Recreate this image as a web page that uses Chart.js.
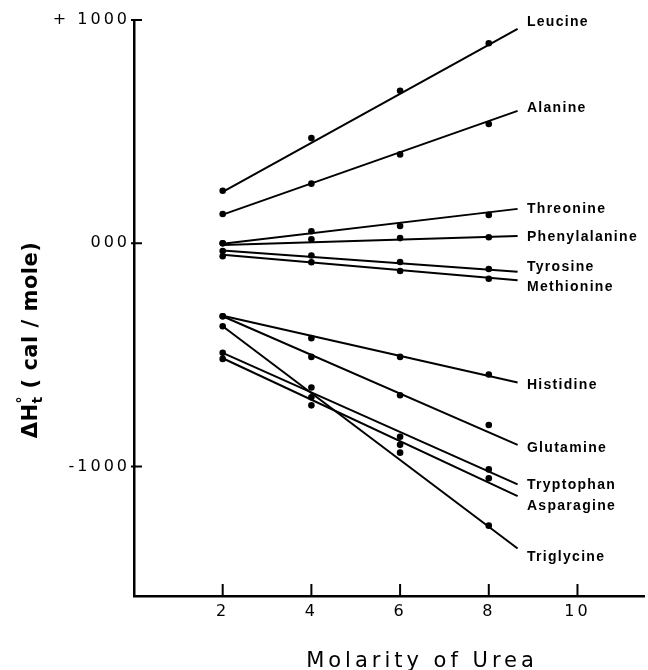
<!DOCTYPE html>
<html>
<head>
<meta charset="utf-8">
<script src="https://cdn.jsdelivr.net/npm/chart.js@4.4.0/dist/chart.umd.min.js"></script>
<style>
  html, body { margin:0; padding:0; background:#fff; }
</style>
</head>
<body>
<canvas id="mychart" width="648" height="670"></canvas>
<script>
// molarity of urea where the points were measured
var molarity = [2, 4, 6, 8]

var acids = ["Leucine", "Alanine", "Threonine", "Phenylalanine", "Tyrosine", "Methionine",
             "Histidine", "Glutamine", "Tryptophan", "Asparagine", "Triglycine"]

// measured points, cal/mole
var leucine       = [235, 471, 683, 896]
var alanine       = [131, 267, 398, 534]
var threonine     = [0, 54, 77, 127]
var phenylalanine = [0, 18, 23, 27]
var tyrosine      = [-35, -55, -84, -115]
var methionine    = [-58, -85, -124, -159]
var histidine     = [-327, -425, -509, -588]
var glutamine     = [-327, -509, -681, -814]
var tryptophan    = [-491, -646, -867, -1013]
var asparagine    = [-518, -690, -903, -1053]
var triglycine    = [-372, -726, -938, -1265]

// fitted straight lines: value at lineX[0] and at lineX[1]
var lineX     = [2, 8.65]
var fitStart  = [230, 128, -2, -8, -32, -52, -325, -327, -491, -515, -372]
var fitEnd    = [960, 593, 154, 32, -128, -166, -624, -903, -1080, -1133, -1367]

// where the name of each line sits
var labelX = 8.86
var labelY = [991, 606, 154, 27, -106, -195, -637, -916, -1084, -1177, -1407]

var xTicks = [2, 4, 6, 8, 10]
var yTicks = [-1000, 0, 1000]
var yTickLabels = ["-1000", "000", "+ 1000"]

var points = [leucine, alanine, threonine, phenylalanine, tyrosine, methionine,
              histidine, glutamine, tryptophan, asparagine, triglycine]

var datasets = []
for (var i = 0; i < acids.length; i++) {
  datasets.push({
    label: acids[i] + " fit",
    data: [{x: lineX[0], y: fitStart[i]}, {x: lineX[1], y: fitEnd[i]}],
    showLine: true,
    borderColor: "#000",
    borderWidth: 2,
    pointRadius: 0
  })
  datasets.push({
    label: acids[i],
    data: molarity.map(function(x, j){ return {x: x, y: points[i][j]} }),
    showLine: false,
    pointRadius: 3.3,
    pointBackgroundColor: "#000",
    pointBorderWidth: 0
  })
}

var decor = {
  id: "decor",
  beforeDraw: function(chart){
    chart.ctx.letterSpacing = "3px"
  },
  afterDraw: function(chart){
    var ctx = chart.ctx, xs = chart.scales.x, ys = chart.scales.y, area = chart.chartArea
    ctx.save()
    ctx.strokeStyle = "#000"
    ctx.lineWidth = 2
    // inward tick marks
    yTicks.forEach(function(v){
      var py = ys.getPixelForValue(v)
      ctx.beginPath(); ctx.moveTo(area.left - 3, py); ctx.lineTo(area.left + 8, py); ctx.stroke()
    })
    xTicks.forEach(function(v){
      var px = xs.getPixelForValue(v)
      ctx.beginPath(); ctx.moveTo(px, area.bottom); ctx.lineTo(px, area.bottom - 12); ctx.stroke()
    })

    // line names
    ctx.fillStyle = "#000"
    ctx.font = 'bold 14px "Liberation Sans"'
    ctx.letterSpacing = "1.3px"
    ctx.textAlign = "left"
    ctx.textBaseline = "middle"
    acids.forEach(function(name, i){
      ctx.fillText(name, xs.getPixelForValue(labelX), ys.getPixelForValue(labelY[i]))
    })

    // x title
    ctx.font = '21px "DejaVu Sans"'
    ctx.letterSpacing = "4px"
    ctx.textAlign = "center"
    ctx.textBaseline = "alphabetic"
    ctx.fillText("Molarity of Urea", 422, 667)

    // y title, rotated
    ctx.translate(37, 340)
    ctx.rotate(-Math.PI / 2)
    ctx.letterSpacing = "0.5px"
    var big = 'bold 21px "DejaVu Sans"', small = 'bold 14px "DejaVu Sans"'
    var a = "\u0394H", b = " ( cal / mole)"
    ctx.font = big
    var wa = ctx.measureText(a).width
    var wb = ctx.measureText(b).width
    ctx.font = small
    var ws = ctx.measureText("t").width
    var x0 = -(wa + ws + wb) / 2
    ctx.textAlign = "left"
    ctx.font = big
    ctx.fillText(a, x0, 0)
    ctx.font = small
    ctx.fillText("\u00b0", x0 + wa, -10)
    ctx.fillText("t", x0 + wa, 5)
    ctx.font = big
    ctx.fillText(b, x0 + wa + ws, 0)
    ctx.restore()
    ctx.letterSpacing = "0px"
  }
}

var mychart = document.getElementById("mychart").getContext("2d")
var chart = new Chart(mychart, {
  type: "scatter",
  data: { datasets: datasets },
  options: {
    responsive: false,
    devicePixelRatio: 1,
    animation: false,
    layout: { padding: { top: 20, right: 3, left: 0, bottom: 0 } },
    plugins: { legend: { display: false }, tooltip: { enabled: false } },
    scales: {
      x: {
        type: "linear",
        min: 0, max: 11.5,
        afterBuildTicks: function(scale){ scale.ticks = xTicks.map(function(v){ return {value: v} }) },
        afterFit: function(scale){ scale.height = 74 },
        grid: { display: true, drawOnChartArea: false, drawTicks: false },
        border: { display: true, color: "#000", width: 2.5 },
        ticks: { color: "#000", padding: 6, font: { family: "DejaVu Sans", size: 16 } }
      },
      y: {
        type: "linear",
        min: -1580, max: 1000,
        afterBuildTicks: function(scale){ scale.ticks = yTicks.map(function(v){ return {value: v} }) },
        afterFit: function(scale){ scale.width = 134 },
        grid: { display: true, drawOnChartArea: false, drawTicks: false },
        border: { display: true, color: "#000", width: 2.5 },
        ticks: {
          color: "#000", padding: 4, font: { family: "DejaVu Sans", size: 16 },
          callback: function(v){ return yTickLabels[yTicks.indexOf(v)] }
        }
      }
    }
  },
  plugins: [decor]
})
</script>
</body>
</html>
